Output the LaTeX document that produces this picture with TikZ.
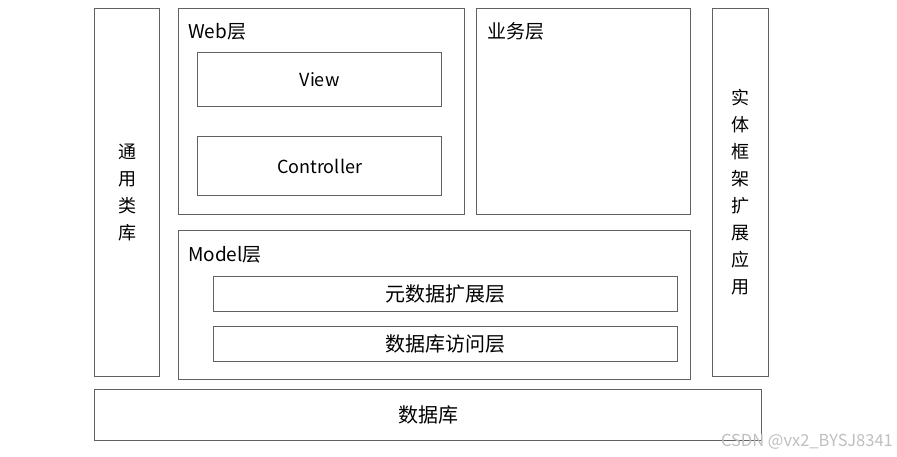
\documentclass[tikz,border=0pt]{standalone}
\usepackage{fontspec}
\setmainfont{Noto Sans CJK SC}
\usetikzlibrary{positioning}
\tikzset{
  layer/.style={draw=black!62, line width=1.1pt, fill=white, inner sep=0pt, anchor=north west},
  lbl/.style={anchor=base west, inner sep=0pt, font=\fontsize{19}{22}\selectfont},
  txt/.style={inner sep=0pt, font=\fontsize{20}{22}\selectfont},
  ltxt/.style={inner sep=0pt, font=\fontsize{18}{22}\selectfont},
  vtxt/.style={inner sep=0pt, align=center, font=\fontsize{18}{27}\selectfont}
}
\newcommand{\layerbox}[5]{\node[layer, minimum width=#4-#2, minimum height=#5-#3] (#1) at (#2,#3) {};}
\begin{document}
\begin{tikzpicture}[x=1pt, y=-1pt]
  \useasboundingbox (0,0) rectangle (897,456);
  % side columns
  \layerbox{common}{94}{8}{159}{376}
  \layerbox{entity}{712}{8}{768}{376}
  \node[vtxt] (commontext) at (common.center) {通\\用\\类\\库};
  \node[vtxt] (entitytext) at (entity.center) {实\\体\\框\\架\\扩\\展\\应\\用};
  % web layer
  \layerbox{web}{178}{8}{464}{214}
  \node[lbl] (webtext) at (188,38) {Web层};
  \layerbox{view}{197}{52}{441}{106}
  \node[ltxt] (viewtext) at (view.center) {View};
  \layerbox{ctrl}{197}{136}{441}{195}
  \node[ltxt] (ctrltext) at (ctrl.center) {Controller};
  % business layer
  \layerbox{biz}{476}{8}{690}{214}
  \node[lbl] (biztext) at (487,38) {业务层};
  % model layer
  \layerbox{model}{178}{230}{690}{379}
  \node[lbl] (modeltext) at (188,261) {Model层};
  \layerbox{meta}{213}{276}{677}{311}
  \node[txt] (metatext) at (meta.center) {元数据扩展层};
  \layerbox{dao}{213}{326}{677}{361}
  \node[txt] (daotext) at (dao.center) {数据库访问层};
  % database
  \layerbox{db}{94}{389}{761}{440}
  \node[txt] (dbtext) at (db.center) {数据库};
  % watermark
  \node[anchor=base east, inner sep=0pt, text=black!25, font=\fontsize{16.5}{18}\selectfont] (mark) at (893,446) {CSDN @vx2\_BYSJ8341};
\end{tikzpicture}
\end{document}
